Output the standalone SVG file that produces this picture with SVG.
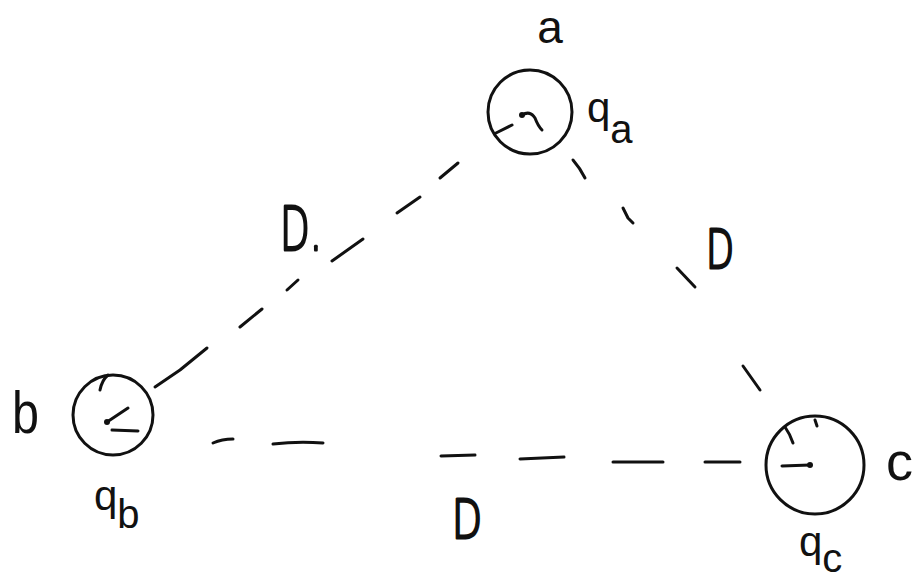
<svg xmlns="http://www.w3.org/2000/svg" width="919" height="583" viewBox="0 0 919 583">
<style>
.ink{fill:none;stroke:#111;stroke-width:3;stroke-linecap:round;stroke-linejoin:round}
.lbl{font-family:"Liberation Sans","DejaVu Sans",sans-serif;fill:#111}
.thin{font-family:"DejaVu Sans","Liberation Sans",sans-serif;font-weight:200;fill:#111}
</style>
<rect width="919" height="583" fill="#fff"/>
<g id="connectors" class="ink">
  <g id="edge-ab">
    <path d="M440,178 L458,163"/>
    <path d="M397,213 L420,197"/>
    <path d="M332,261 L363,239"/>
    <path d="M287,290 L298,280"/>
    <path d="M240,327 L262,309"/>
    <path d="M155,387 L180,370 L207,348"/>
  </g>
  <g id="edge-ac">
    <path d="M573,160 Q580,168 585,178"/>
    <path d="M623,208 L628,218 L633,223"/>
    <path d="M677,268 L695,287"/>
    <path d="M743,366 L760,390"/>
  </g>
  <g id="edge-bc">
    <path d="M213,443 Q222,439 233,439"/>
    <path d="M273,444 Q298,441 323,443"/>
    <path d="M441,456 L475,455"/>
    <path d="M520,459 L564,457"/>
    <path d="M613,462 L663,462"/>
    <path d="M705,462 L740,462"/>
  </g>
  <text class="thin" x="280" y="250" font-size="60" textLength="42" lengthAdjust="spacingAndGlyphs">D.</text>
  <text class="thin" x="706" y="268" font-size="54" textLength="28" lengthAdjust="spacingAndGlyphs">D</text>
  <text class="thin" x="452" y="538" font-size="54" textLength="30" lengthAdjust="spacingAndGlyphs">D</text>
</g>
<g id="node-a">
  <circle class="ink" cx="530" cy="112" r="42"/>
  <circle cx="522" cy="115" r="3" fill="#111"/>
  <path class="ink" d="M522,115 Q530,110 535,118 Q538,126 542,130"/>
  <path class="ink" d="M496,133 L512,125"/>
  <text class="lbl" x="550" y="43" font-size="46" text-anchor="middle">a</text>
  <text class="lbl" x="587" y="122" font-size="42">q<tspan dy="21" font-size="40">a</tspan></text>
</g>
<g id="node-b">
  <circle class="ink" cx="113" cy="415" r="40"/>
  <circle cx="107" cy="422" r="3" fill="#111"/>
  <path class="ink" d="M107,422 L128,408"/>
  <path class="ink" d="M112,430 L138,431"/>
  <path class="ink" d="M100,390 Q102,380 108,375"/>
  <text class="lbl" x="12" y="433" font-size="60" textLength="27" lengthAdjust="spacingAndGlyphs">b</text>
  <text class="lbl" x="94" y="510" font-size="42">q<tspan dy="18" font-size="40">b</tspan></text>
</g>
<g id="node-c">
  <circle class="ink" cx="815" cy="465" r="49"/>
  <circle cx="810" cy="465" r="3" fill="#111"/>
  <path class="ink" d="M782,466 L810,465"/>
  <path class="ink" d="M785,427 Q790,434 793,443"/>
  <path class="ink" d="M815,420 L817,426"/>
  <text class="lbl" x="886" y="480" font-size="54">c</text>
  <text class="lbl" x="799" y="556" font-size="42">q<tspan dy="16" font-size="40">c</tspan></text>
</g>
</svg>
